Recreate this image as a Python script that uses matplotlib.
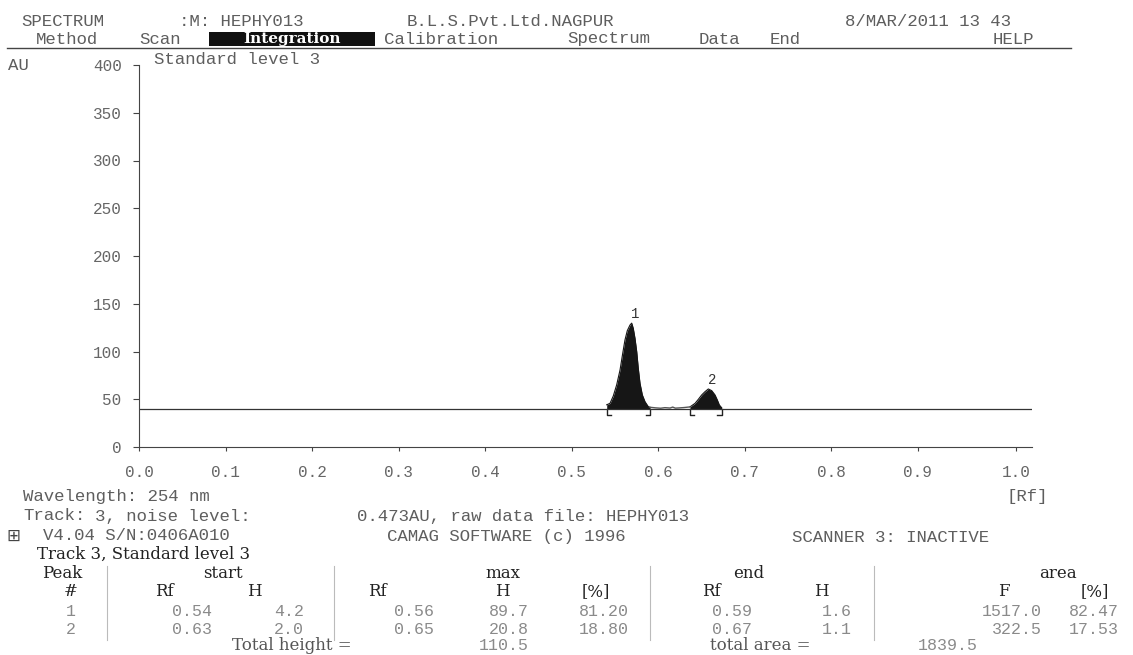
import numpy as np
import matplotlib.pyplot as plt
from matplotlib.patches import Rectangle
from matplotlib.lines import Line2D

plt.rcParams['font.family'] = ['Liberation Mono', 'DejaVu Sans']

# densitogram track 3, Rf vs AU
baseline = 40.0
rf_p1 = [0.5407, 0.5445, 0.5483, 0.5522, 0.5561, 0.5592, 0.5618, 0.5645, 0.5676, 0.5696,
         0.5714, 0.5734, 0.5754, 0.5772, 0.5792, 0.5819, 0.5850, 0.5888, 0.5908]
au_p1 = [44.2, 45.7, 53.4, 65.0, 80.6, 98.0, 112.0, 121.8, 127.7, 129.7,
         124.3, 113.8, 99.8, 82.4, 66.7, 54.5, 47.4, 42.2, 41.6]
rf_gap = [0.5908, 0.5970, 0.6030, 0.6080, 0.6140, 0.6170, 0.6200, 0.6240, 0.6300, 0.6370]
au_gap = [41.6, 41.0, 40.6, 41.2, 40.8, 41.8, 40.7, 40.9, 41.3, 42.0]
rf_p2 = [0.6370, 0.6428, 0.6466, 0.6505, 0.6543, 0.6582, 0.6621, 0.6659, 0.6686, 0.6709, 0.6736]
au_p2 = [42.0, 45.7, 49.9, 54.5, 57.9, 60.8, 59.0, 54.5, 49.2, 44.0, 41.1]

# integration table
peak_no = [1, 2]
start_rf = [0.54, 0.63]
start_h = [4.2, 2.0]
max_rf = [0.56, 0.65]
max_h = [89.7, 20.8]
max_pct = [81.20, 18.80]
end_rf = [0.59, 0.67]
end_h = [1.6, 1.1]
area_f = [1517.0, 322.5]
area_pct = [82.47, 17.53]
total_height = 110.5
total_area = 1839.5

xtick_lbl = ['0.0', '0.1', '0.2', '0.3', '0.4', '0.5', '0.6', '0.7', '0.8', '0.9', '1.0']

W, H = 1133, 655
fig = plt.figure(figsize=(W / 100, H / 100), dpi=100)
fig.patch.set_facecolor('white')

thin = dict(color='#5e5e5e', fontsize=12.5)
serif = dict(family='DejaVu Serif', color='#222222', fontsize=12)
light = dict(color='#8a8a8a', fontsize=12)


def ftext(x, y, s, ha='left', **kw):
    # x, y in pixels from the top left corner
    return fig.text(x / W, 1 - y / H, s, ha=ha, va='center', **kw)


# ---- plot area ----
ax = fig.add_axes([139 / W, 1 - 447 / H, 893 / W, 382 / H])

for rf, au in ((rf_p1, au_p1), (rf_p2, au_p2)):
    ax.fill_between(rf, baseline, au, color='#161616', lw=0)
    ax.plot(rf, au, color='#161616', lw=0.8)
    # integration limits
    d, foot = 7, 0.005
    ax.plot([rf[0] + foot, rf[0], rf[0]], [baseline - d, baseline - d, baseline], color='#222', lw=1)
    ax.plot([rf[-1] - foot, rf[-1], rf[-1]], [baseline - d, baseline - d, baseline], color='#222', lw=1)
ax.plot(rf_gap, au_gap, color='#555', lw=1)
ax.axhline(baseline, color='#333', lw=0.9)

for i, n in enumerate(peak_no):
    rf, au = (rf_p1, au_p1) if i == 0 else (rf_p2, au_p2)
    k = int(np.argmax(au))
    ax.annotate(str(n), (rf[k], baseline + max_h[i]), xytext=(2.5, 1.5), textcoords='offset points',
                ha='center', va='bottom', fontsize=10, color='#333')

ax.set_xlim(0, 893 / 865)
ax.set_ylim(0, 400)
xt = list(np.arange(0, 1.0, 0.1)) + [1.014]
ax.set_xticks(xt)
ax.set_xticklabels(xtick_lbl)
ax.set_yticks(range(0, 401, 50))
for s in ['top', 'right']:
    ax.spines[s].set_visible(False)
for s in ['left', 'bottom']:
    ax.spines[s].set_color('#444')
    ax.spines[s].set_linewidth(0.8)
ax.tick_params(axis='y', length=4.5, width=0.8, pad=8, labelsize=11.5, labelcolor='#666', color='#444')
ax.tick_params(axis='x', length=3, width=0.8, pad=10, labelsize=11.5, labelcolor='#666', color='#444')

# ---- header / menu ----
ftext(21, 21, 'SPECTRUM', **thin)
ftext(179, 21, ':M: HEPHY013', **thin)
ftext(407, 21, 'B.L.S.Pvt.Ltd.NAGPUR', **thin)
ftext(845, 21, '8/MAR/2011 13 43', **thin)

ftext(36, 39, 'Method', **thin)
ftext(139, 39, 'Scan', **thin)
fig.add_artist(Rectangle((209 / W, 1 - 46 / H), 166 / W, 14 / H, transform=fig.transFigure,
                         facecolor='#111', edgecolor='none'))
ftext(292, 39, 'Integration', ha='center', family='DejaVu Serif', fontweight='bold',
      color='white', fontsize=11)
ftext(384, 39, 'Calibration', **thin)
ftext(567, 39, 'Spectrum', **thin)
ftext(699, 39, 'Data', **thin)
ftext(770, 39, 'End', **thin)
ftext(993, 39, 'HELP', **thin)
fig.add_artist(Line2D([7 / W, 1071 / W], [1 - 47.5 / H] * 2, color='#444', lw=1))

ftext(154, 60, 'Standard level 3', **thin)
ftext(8, 66, 'AU', **thin)

# ---- scan info ----
ftext(1006, 497, '[Rf]', **thin)
ftext(23, 497, 'Wavelength: 254 nm', **thin)
ftext(23, 516, 'Track:', **thin)
ftext(95, 516, '3, noise level:', **thin)
ftext(357, 516, '0.473AU, raw data file: HEPHY013', **thin)
ftext(6, 536, '\u229e', color='#444', fontsize=12, family='DejaVu Sans')
ftext(43, 536, 'V4.04 S/N:0406A010', **thin)
ftext(387, 536, 'CAMAG SOFTWARE (c) 1996', **thin)
ftext(792, 537, 'SCANNER 3: INACTIVE', **thin)

ftext(37, 554, 'Track 3, Standard level 3', **serif)

# ---- table ----
for x in [107, 334, 650, 874]:
    fig.add_artist(Line2D([x / W] * 2, [1 - 566 / H, 1 - 640 / H], color='#bbb', lw=0.8))

for s, x in [('Peak', 62), ('start', 223), ('max', 503), ('end', 749), ('area', 1058)]:
    ftext(x, 573, s, ha='center', **serif)
for s, x in [('#', 71), ('Rf', 164), ('H', 254), ('Rf', 377), ('H', 502), ('[%]', 596),
             ('Rf', 711), ('H', 821), ('F', 1004), ('[%]', 1095)]:
    ftext(x, 592, s, ha='center', **serif)

right_edges = [212, 304, 434, 529, 629, 752, 852, 1042, 1119]
for i, n in enumerate(peak_no):
    y = 611 + 18.5 * i
    ftext(71, y, str(n), ha='center', **light)
    vals = [f'{start_rf[i]:.2f}', f'{start_h[i]:.1f}', f'{max_rf[i]:.2f}', f'{max_h[i]:.1f}',
            f'{max_pct[i]:.2f}', f'{end_rf[i]:.2f}', f'{end_h[i]:.1f}', f'{area_f[i]:.1f}',
            f'{area_pct[i]:.2f}']
    for v, x in zip(vals, right_edges):
        ftext(x, y, v, ha='right', **light)

ftext(232, 646, 'Total height =', family='DejaVu Serif', color='#555', fontsize=12)
ftext(529, 646, f'{total_height:.1f}', ha='right', **light)
ftext(710, 646, 'total area =', family='DejaVu Serif', color='#555', fontsize=12)
ftext(978, 646, f'{total_area:.1f}', ha='right', **light)

fig.savefig('out.png', dpi=100, facecolor='white')
